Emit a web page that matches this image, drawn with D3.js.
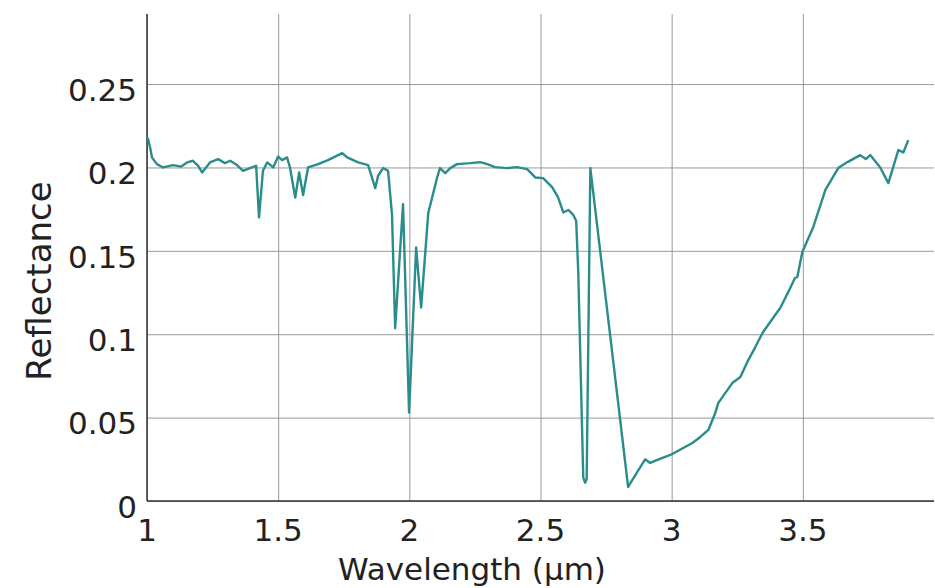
<!DOCTYPE html>
<html>
<head>
<meta charset="utf-8">
<script src="https://cdn.jsdelivr.net/npm/d3@7"></script>
<style>
  body { margin: 0; background: #fff; }
  svg text { font-family: "DejaVu Sans", sans-serif; fill: #222; }
  .grid line { stroke: #9a9a9a; stroke-width: 1; }
  .grid path { display: none; }
</style>
</head>
<body>
<svg width="935" height="588"></svg>
<script>
"use strict";

// wavelength (um) and reflectance
const wavelength = [
  1.000, 1.004, 1.012, 1.019, 1.038, 1.061, 1.099, 1.130, 1.153, 1.175,
  1.195, 1.210, 1.240, 1.271, 1.297, 1.317, 1.343, 1.366, 1.400, 1.416,
  1.427, 1.442, 1.458, 1.481, 1.500, 1.515, 1.534, 1.545, 1.565, 1.580,
  1.595, 1.614, 1.652, 1.690, 1.744, 1.763, 1.805, 1.843, 1.870, 1.881,
  1.900, 1.919, 1.934, 1.946, 1.976, 1.999, 2.026, 2.045, 2.072, 2.106,
  2.117, 2.137, 2.156, 2.182, 2.232, 2.270, 2.297, 2.327, 2.373, 2.411,
  2.449, 2.480, 2.510, 2.545, 2.567, 2.587, 2.606, 2.625, 2.636, 2.644,
  2.663, 2.670, 2.676, 2.690, 2.834, 2.869, 2.899, 2.918, 2.945, 2.995,
  3.044, 3.079, 3.109, 3.140, 3.166, 3.178, 3.231, 3.262, 3.292, 3.319,
  3.346, 3.400, 3.414, 3.452, 3.470, 3.479, 3.498, 3.540, 3.586, 3.635,
  3.670, 3.719, 3.740, 3.757, 3.795, 3.826, 3.864, 3.883, 3.902
];
const reflectance = [
  0.218, 0.217, 0.212, 0.206, 0.202, 0.200, 0.2014, 0.2005, 0.203, 0.204,
  0.201, 0.197, 0.203, 0.205, 0.2026, 0.204, 0.2014, 0.198, 0.200, 0.201,
  0.170, 0.198, 0.203, 0.200, 0.2065, 0.2044, 0.206, 0.200, 0.182, 0.197,
  0.1835, 0.200, 0.202, 0.2044, 0.2086, 0.206, 0.203, 0.2014, 0.1876, 0.195,
  0.1996, 0.198, 0.1715, 0.1036, 0.178, 0.053, 0.152, 0.116, 0.1725, 0.194,
  0.1996, 0.1966, 0.1996, 0.202, 0.2026, 0.2032, 0.202, 0.2002, 0.1996, 0.2002,
  0.199, 0.194, 0.1936, 0.188, 0.182, 0.173, 0.1745, 0.1715, 0.168, 0.137,
  0.014, 0.011, 0.013, 0.1996, 0.0084, 0.0174, 0.025, 0.0228, 0.0246, 0.0276,
  0.0318, 0.0348, 0.0384, 0.0426, 0.0528, 0.0588, 0.0707, 0.0743, 0.0845, 0.0923,
  0.1007, 0.1127, 0.1157, 0.1277, 0.1337, 0.1343, 0.1493, 0.1643, 0.1865, 0.1996,
  0.2032, 0.2074, 0.205, 0.2074, 0.200, 0.1906, 0.2104, 0.209, 0.2164
];
const xTicks = [1, 1.5, 2, 2.5, 3, 3.5];
const yTicks = [0, 0.05, 0.1, 0.15, 0.2, 0.25];

const svg = d3.select('svg');
const plotLeft = 147, plotRight = 934, plotTop = 14, plotBottom = 501;

const x = d3.scaleLinear().domain([1, 4]).range([plotLeft, plotRight]);
const y = d3.scaleLinear().domain([0, 0.292]).range([plotBottom, plotTop]);

// grid
svg.append('g')
  .attr('class', 'grid')
  .attr('transform', `translate(0, ${plotBottom})`)
  .call(d3.axisBottom(x).tickValues(xTicks).tickSize(-(plotBottom - plotTop)).tickFormat(''));

svg.append('g')
  .attr('class', 'grid')
  .attr('transform', `translate(${plotLeft}, 0)`)
  .call(d3.axisLeft(y).tickValues(yTicks).tickSize(-(plotRight - plotLeft)).tickFormat(''));

// axis lines
svg.append('line')
  .attr('x1', plotLeft).attr('x2', plotLeft).attr('y1', plotTop).attr('y2', plotBottom)
  .attr('stroke', '#333').attr('stroke-width', 1.5);
svg.append('line')
  .attr('x1', plotLeft).attr('x2', plotRight).attr('y1', plotBottom).attr('y2', plotBottom)
  .attr('stroke', '#333').attr('stroke-width', 1.5);

// tick labels
const fmt = d => String(d);
svg.append('g').selectAll('text')
  .data(yTicks)
  .enter().append('text')
  .attr('x', plotLeft - 10)
  .attr('y', d => y(d) + 6)
  .attr('dy', '0.35em')
  .attr('text-anchor', 'end')
  .style('font-size', '31px')
  .text(fmt);

svg.append('g').selectAll('text')
  .data(xTicks)
  .enter().append('text')
  .attr('x', d => x(d))
  .attr('y', 530)
  .attr('dy', '0.35em')
  .attr('text-anchor', 'middle')
  .style('font-size', '31px')
  .text(fmt);

// spectrum
const line = d3.line()
  .x((d, i) => x(wavelength[i]))
  .y(d => y(d));

svg.append('path')
  .datum(reflectance)
  .attr('fill', 'none')
  .attr('stroke', '#2b8c8c')
  .attr('stroke-width', 2.4)
  .attr('stroke-linejoin', 'round')
  .attr('d', line);

// axis titles
svg.append('text')
  .attr('x', 472)
  .attr('y', 580)
  .attr('text-anchor', 'middle')
  .style('font-size', '31px')
  .text('Wavelength (µm)');

svg.append('text')
  .attr('transform', 'translate(51, 281) rotate(-90)')
  .attr('text-anchor', 'middle')
  .style('font-size', '34px')
  .text('Reflectance');
</script>
</body>
</html>
